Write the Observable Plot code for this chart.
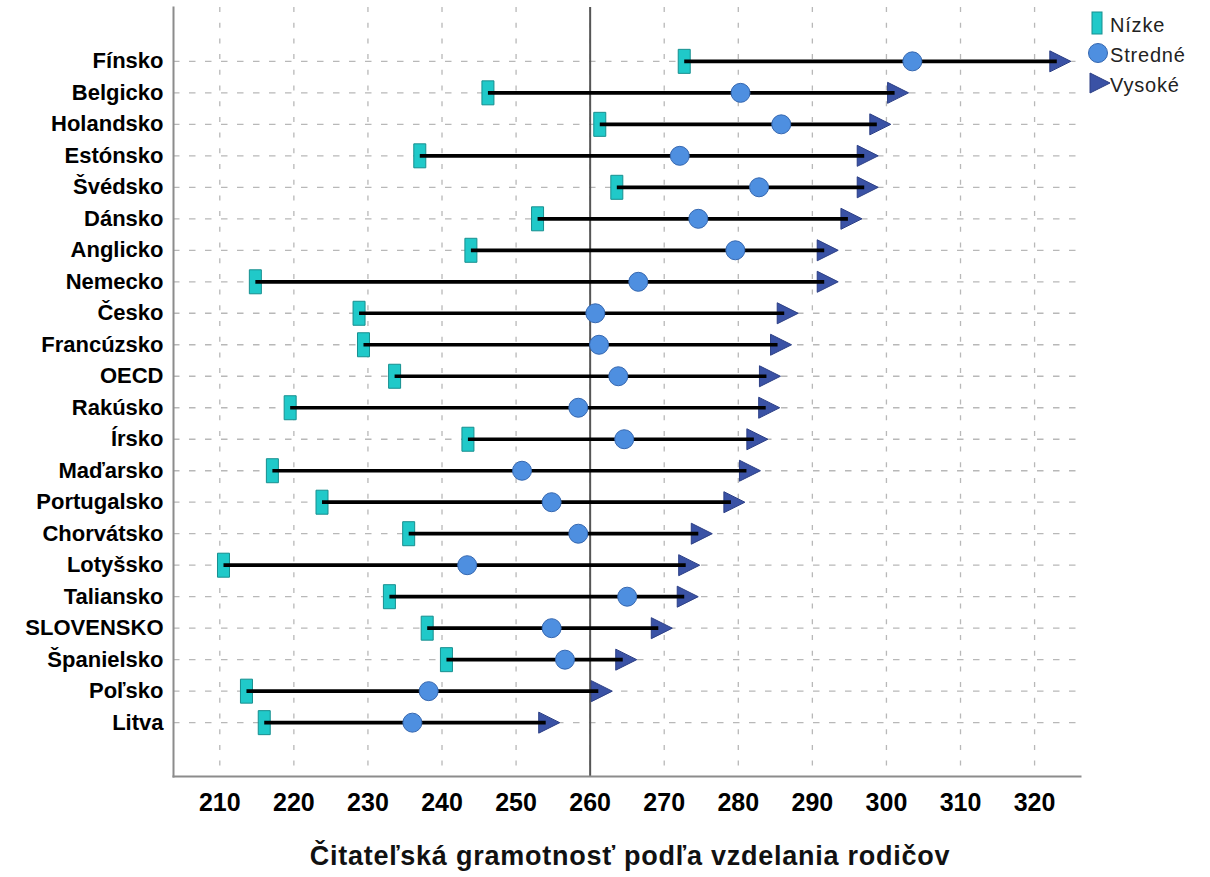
<!DOCTYPE html>
<html><head><meta charset="utf-8">
<script src="https://cdn.jsdelivr.net/npm/d3@7"></script>
<script src="https://cdn.jsdelivr.net/npm/@observablehq/plot@0.6"></script>
<style>
body{margin:0;background:#fff;font-family:"Liberation Sans",Arial,sans-serif;}
#wrap{position:relative;width:1210px;height:877px;overflow:hidden;}
#title{position:absolute;left:130px;width:1000px;top:843px;text-align:center;font-size:27px;font-weight:bold;line-height:27px;letter-spacing:0.75px;color:#111;white-space:nowrap;}
#legend{position:absolute;left:1080px;top:0;}
</style></head><body>
<div id="wrap"><div id="chart"></div>
<div id="title">Čitateľská gramotnosť podľa vzdelania rodičov</div>
<svg id="legend" width="130" height="100" font-family="Liberation Sans, Arial, sans-serif" font-size="20" fill="#222">
  <rect x="12" y="12" width="10" height="22" fill="#20C9C9" stroke="#178f8f" stroke-width="1"/>
  <text x="30" y="32" letter-spacing="0.8">Nízke</text>
  <circle cx="18" cy="53" r="9.5" fill="#4E8FE0" stroke="#3567b0" stroke-width="1"/>
  <text x="30" y="62" letter-spacing="0.8">Stredné</text>
  <path d="M10,73 L30,83 L10,93 Z" fill="#3A52A5" stroke="#2c3f85" stroke-width="1"/>
  <text x="30" y="92" letter-spacing="0.8">Vysoké</text>
</svg>
</div>
<script>
const countries = ["Fínsko","Belgicko","Holandsko","Estónsko","Švédsko","Dánsko","Anglicko","Nemecko","Česko","Francúzsko","OECD","Rakúsko","Írsko","Maďarsko","Portugalsko","Chorvátsko","Lotyšsko","Taliansko","SLOVENSKO","Španielsko","Poľsko","Litva"];
const nizke   = [272.7,246.2,261.3,237.0,263.6,252.9,243.9,214.8,228.8,229.4,233.6,219.5,243.5,217.1,223.8,235.5,210.5,232.9,238.0,240.6,213.6,216.0];
const stredne = [303.5,280.3,285.8,272.1,282.8,274.6,279.6,266.5,260.7,261.2,263.8,258.4,264.6,250.8,254.8,258.4,243.4,265.0,254.8,256.6,238.2,236.0];
const vysoke  = [323.0,301.1,298.7,297.0,297.0,294.8,291.6,291.6,286.2,285.3,283.8,283.7,282.1,281.1,279.0,274.6,272.9,272.7,269.2,264.4,261.1,254.0];
const xTicks = [210,220,230,240,250,260,270,280,290,300,310,320];
const referenceValue = 260;
const xDomain = [203.75, 326.2];

const rows = countries.map((c, i) => ({country: c, low: nizke[i], mid: stredne[i], high: vysoke[i]}));

const tallRect = {draw(ctx) { ctx.rect(-6, -12, 12, 24); }};
const triRight = {draw(ctx) { const w = 21, h = 21; ctx.moveTo(-w/3, -h/2); ctx.lineTo(2*w/3, 0); ctx.lineTo(-w/3, h/2); ctx.closePath(); }};

const chart = Plot.plot({
  width: 1210,
  height: 830,
  marginLeft: 173,
  marginRight: 130,
  marginTop: 7,
  marginBottom: 54,
  style: {fontFamily: "Liberation Sans, Arial, sans-serif", color: "#000", background: "#fff"},
  x: {domain: xDomain, ticks: xTicks},
  y: {type: "point", domain: countries, padding: 1.71, round: false},
  marks: [
    Plot.ruleX(xTicks, {stroke: "#b8b8b8", strokeWidth: 1.3, strokeDasharray: "5,10.7"}),
    Plot.ruleY(countries, {stroke: "#b8b8b8", strokeWidth: 1.3, strokeDasharray: "6.5,9.5"}),
    Plot.ruleX([referenceValue], {stroke: "#555", strokeWidth: 2}),
    Plot.frame({anchor: "left", stroke: "#8c8c8c", strokeWidth: 2}),
    Plot.frame({anchor: "bottom", stroke: "#8c8c8c", strokeWidth: 2}),
    Plot.dot(rows, {x: "low", y: "country", symbol: tallRect, fill: "#20C9C9", stroke: "#178f8f", strokeWidth: 1}),
    Plot.dot(rows, {x: "high", y: "country", symbol: triRight, fill: "#3A52A5", stroke: "#2c3f85", strokeWidth: 1}),
    Plot.link(rows, {x1: "low", x2: "high", y1: "country", y2: "country", stroke: "#000", strokeWidth: 3.7}),
    Plot.dot(rows, {x: "mid", y: "country", r: 9.5, fill: "#4E8FE0", stroke: "#3567b0", strokeWidth: 1}),
    Plot.axisX({ticks: xTicks, tickSize: 0, tickPadding: 17, fontSize: 25, fontWeight: "bold", label: null}),
    Plot.axisY({tickSize: 0, tickPadding: 10, fontSize: 22, fontWeight: "bold", label: null})
  ]
});
document.getElementById("chart").appendChild(chart);
</script>
</body></html>
